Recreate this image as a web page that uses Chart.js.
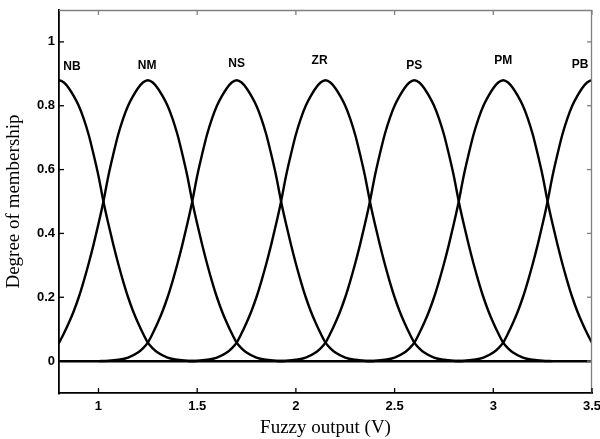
<!DOCTYPE html>
<html>
<head>
<meta charset="utf-8">
<script src="https://cdn.jsdelivr.net/npm/chart.js@4.4.1/dist/chart.umd.min.js"></script>
<style>
  html, body { margin: 0; padding: 0; background: #fff; }
</style>
</head>
<body>
<canvas id="fuzzyChart" width="600" height="439"></canvas>
<script>
// fuzzy sets of the output variable
const setNames = ['NB', 'NM', 'NS', 'ZR', 'PS', 'PM', 'PB'];
const setCenters = [0.8, 1.25, 1.7, 2.15, 2.6, 3.05, 3.5];

// one membership curve: distance from the centre -> degree
const shapeOffsets = [-0.7, -0.65, -0.6, -0.55, -0.5, -0.475, -0.45, -0.425, -0.4, -0.375, -0.35, -0.325, -0.3, -0.275, -0.25, -0.225, -0.2, -0.175, -0.15, -0.125, -0.1, -0.075, -0.05, -0.025,
  0, 0.025, 0.05, 0.075, 0.1, 0.125, 0.15, 0.175, 0.2, 0.225, 0.25, 0.275, 0.3, 0.325, 0.35, 0.375, 0.4, 0.425, 0.45, 0.475, 0.5, 0.55, 0.6, 0.65, 0.7];
const shapeValues = [0, 0.001, 0.004, 0.011, 0.027, 0.04, 0.058, 0.087, 0.12, 0.157, 0.2, 0.25, 0.305, 0.365, 0.43, 0.5, 0.58, 0.648, 0.71, 0.76, 0.8, 0.83, 0.855, 0.873,
  0.88, 0.873, 0.855, 0.83, 0.8, 0.76, 0.71, 0.648, 0.58, 0.5, 0.43, 0.365, 0.305, 0.25, 0.2, 0.157, 0.12, 0.087, 0.058, 0.04, 0.027, 0.011, 0.004, 0.001, 0];

// where the set names sit (data units)
const nameX = [0.866, 1.246, 1.70, 2.12, 2.60, 3.05, 3.44];
const nameY = [0.921, 0.924, 0.933, 0.94, 0.924, 0.94, 0.93];

const xTickValues = [1, 1.5, 2, 2.5, 3, 3.5];
const yTickValues = [0, 0.2, 0.4, 0.6, 0.8, 1];

const datasets = setNames.map((name, i) => ({
    label: name,
    data: shapeOffsets.map((d, k) => ({ x: setCenters[i] + d, y: shapeValues[k] })),
    borderColor: '#000',
    borderWidth: 2.4,
    pointRadius: 0,
    fill: false,
    cubicInterpolationMode: 'monotone'
}));

// MATLAB style box: inward ticks on all four sides, grey top/right edges, set names
const boxPlugin = {
    id: 'matlabBox',
    afterDatasetsDraw(chart) {
        const { ctx, chartArea: a, scales: { x, y } } = chart;
        ctx.save();
        ctx.lineWidth = 1.3;
        ctx.strokeStyle = '#808080';
        ctx.beginPath();
        ctx.moveTo(a.left, a.top + 0.5);
        ctx.lineTo(a.right - 0.5, a.top + 0.5);
        ctx.lineTo(a.right - 0.5, a.bottom);
        ctx.stroke();

        const len = 5;
        xTickValues.forEach(v => {
            const px = x.getPixelForValue(v);
            ctx.strokeStyle = '#000';
            ctx.beginPath(); ctx.moveTo(px, a.bottom); ctx.lineTo(px, a.bottom - len); ctx.stroke();
            ctx.strokeStyle = '#808080';
            ctx.beginPath(); ctx.moveTo(px, a.top); ctx.lineTo(px, a.top + len); ctx.stroke();
        });
        yTickValues.forEach(v => {
            const py = y.getPixelForValue(v);
            ctx.strokeStyle = '#000';
            ctx.beginPath(); ctx.moveTo(a.left, py); ctx.lineTo(a.left + len, py); ctx.stroke();
            ctx.strokeStyle = '#808080';
            ctx.beginPath(); ctx.moveTo(a.right, py); ctx.lineTo(a.right - len, py); ctx.stroke();
        });

        ctx.fillStyle = '#000';
        ctx.font = 'bold 12px "Liberation Sans", Arial, sans-serif';
        ctx.textAlign = 'center';
        ctx.textBaseline = 'middle';
        setNames.forEach((name, i) => {
            ctx.fillText(name, x.getPixelForValue(nameX[i]), y.getPixelForValue(nameY[i]));
        });
        ctx.restore();
    }
};

const tickFont = { family: '"Liberation Sans", Arial, sans-serif', size: 13, weight: 'bold' };
const titleFont = { family: '"Liberation Serif", "Times New Roman", serif', size: 19, lineHeight: 1.2 };

new Chart(document.getElementById('fuzzyChart').getContext('2d'), {
    type: 'line',
    data: { datasets: datasets },
    plugins: [boxPlugin],
    options: {
        responsive: false,
        animation: false,
        layout: { padding: { top: 10, right: 8, left: 0, bottom: 0 } },
        plugins: {
            legend: { display: false },
            tooltip: { enabled: false }
        },
        scales: {
            x: {
                type: 'linear',
                min: 0.8,
                max: 3.5,
                afterBuildTicks: s => { s.ticks = xTickValues.map(v => ({ value: v })); },
                afterFit: s => { s.height = 46; s.paddingLeft = 0; s.paddingRight = 0; },
                grid: { display: false, drawTicks: false },
                border: { display: true, color: '#000', width: 1.8 },
                ticks: {
                    autoSkip: false, maxRotation: 0, padding: 6, color: '#000', font: tickFont,
                    callback: v => String(v)
                },
                title: { display: true, text: 'Fuzzy output (V)', color: '#000', font: titleFont, padding: { top: 0, bottom: 0 } }
            },
            y: {
                min: -0.1,
                max: 1.1,
                afterBuildTicks: s => { s.ticks = yTickValues.map(v => ({ value: v })); },
                afterFit: s => { s.width = 59; s.paddingTop = 0; s.paddingBottom = 0; },
                grid: {
                    drawTicks: false,
                    color: c => c.tick && c.tick.value === 0 ? '#000' : 'rgba(0,0,0,0)',
                    lineWidth: 2.4
                },
                border: { display: true, color: '#000', width: 1.8 },
                ticks: {
                    padding: 4, color: '#000', font: tickFont,
                    callback: v => String(v)
                },
                title: { display: true, text: 'Degree of membership', color: '#000', font: titleFont, padding: { top: 3, bottom: 0 } }
            }
        }
    }
});
</script>
</body>
</html>
